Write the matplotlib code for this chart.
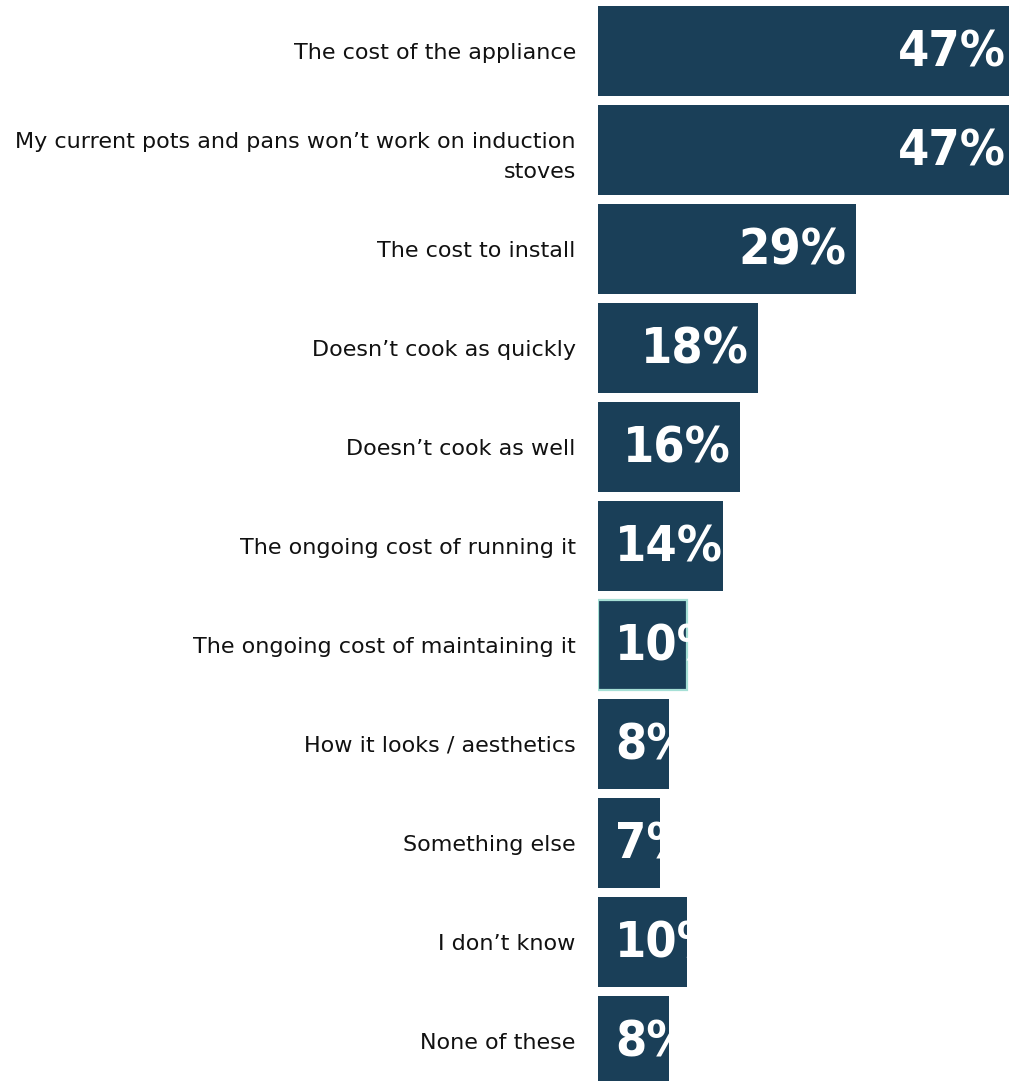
import matplotlib
matplotlib.use("Agg")
import matplotlib.pyplot as plt

# respuestas y porcentajes
categories = [
    "The cost of the appliance",
    "My current pots and pans won\u2019t work on induction\nstoves",
    "The cost to install",
    "Doesn\u2019t cook as quickly",
    "Doesn\u2019t cook as well",
    "The ongoing cost of running it",
    "The ongoing cost of maintaining it",
    "How it looks / aesthetics",
    "Something else",
    "I don\u2019t know",
    "None of these",
]
values = [47, 47, 29, 18, 16, 14, 10, 8, 7, 10, 8]
highlight = "The ongoing cost of maintaining it"

bar_color = "#1a3f58"
edge_color = "#a6e0d6"

W, H = 1009, 1081
fig = plt.figure(figsize=(W / 100, H / 100), dpi=100)
ax = fig.add_axes([598 / W, 0, (W - 598) / W, 1])

px_per_pct = 8.9
ax.set_xlim(0, (W - 598) / px_per_pct)
ax.set_ylim((H - 51) / 99, -51 / 99)

ys = list(range(len(categories)))
bars = ax.barh(ys, values, height=90 / 99, color=bar_color, linewidth=0)

# contorno para la barra destacada
for bar, cat in zip(bars, categories):
    if cat == highlight:
        bar.set_edgecolor(edge_color)
        bar.set_linewidth(1.6)

# etiquetas de valor dentro de la barra, recortadas por la barra
for bar, v, y in zip(bars, values, ys):
    if v >= 15:
        x, ha = v - 10 / px_per_pct, "right"
    else:
        x, ha = 17 / px_per_pct, "left"
    t = ax.text(x, y + 0.02, f"{v}%", ha=ha, va="center", color="white",
                fontsize=36, fontweight="bold", family="DejaVu Sans",
                fontstretch="condensed")
    t.set_clip_path(bar)

ax.set_yticks(ys)
ax.set_yticklabels(categories, fontsize=16, family="DejaVu Sans", color="#111111",
                   linespacing=1.6)
for lbl in ax.get_yticklabels():
    if "\n" in lbl.get_text():
        lbl.set_y(lbl.get_position()[1] - 0.04)
ax.tick_params(axis="y", length=0, pad=16)
ax.tick_params(axis="x", bottom=False, labelbottom=False)
for s in ax.spines.values():
    s.set_visible(False)

fig.savefig("out.png", dpi=100)
